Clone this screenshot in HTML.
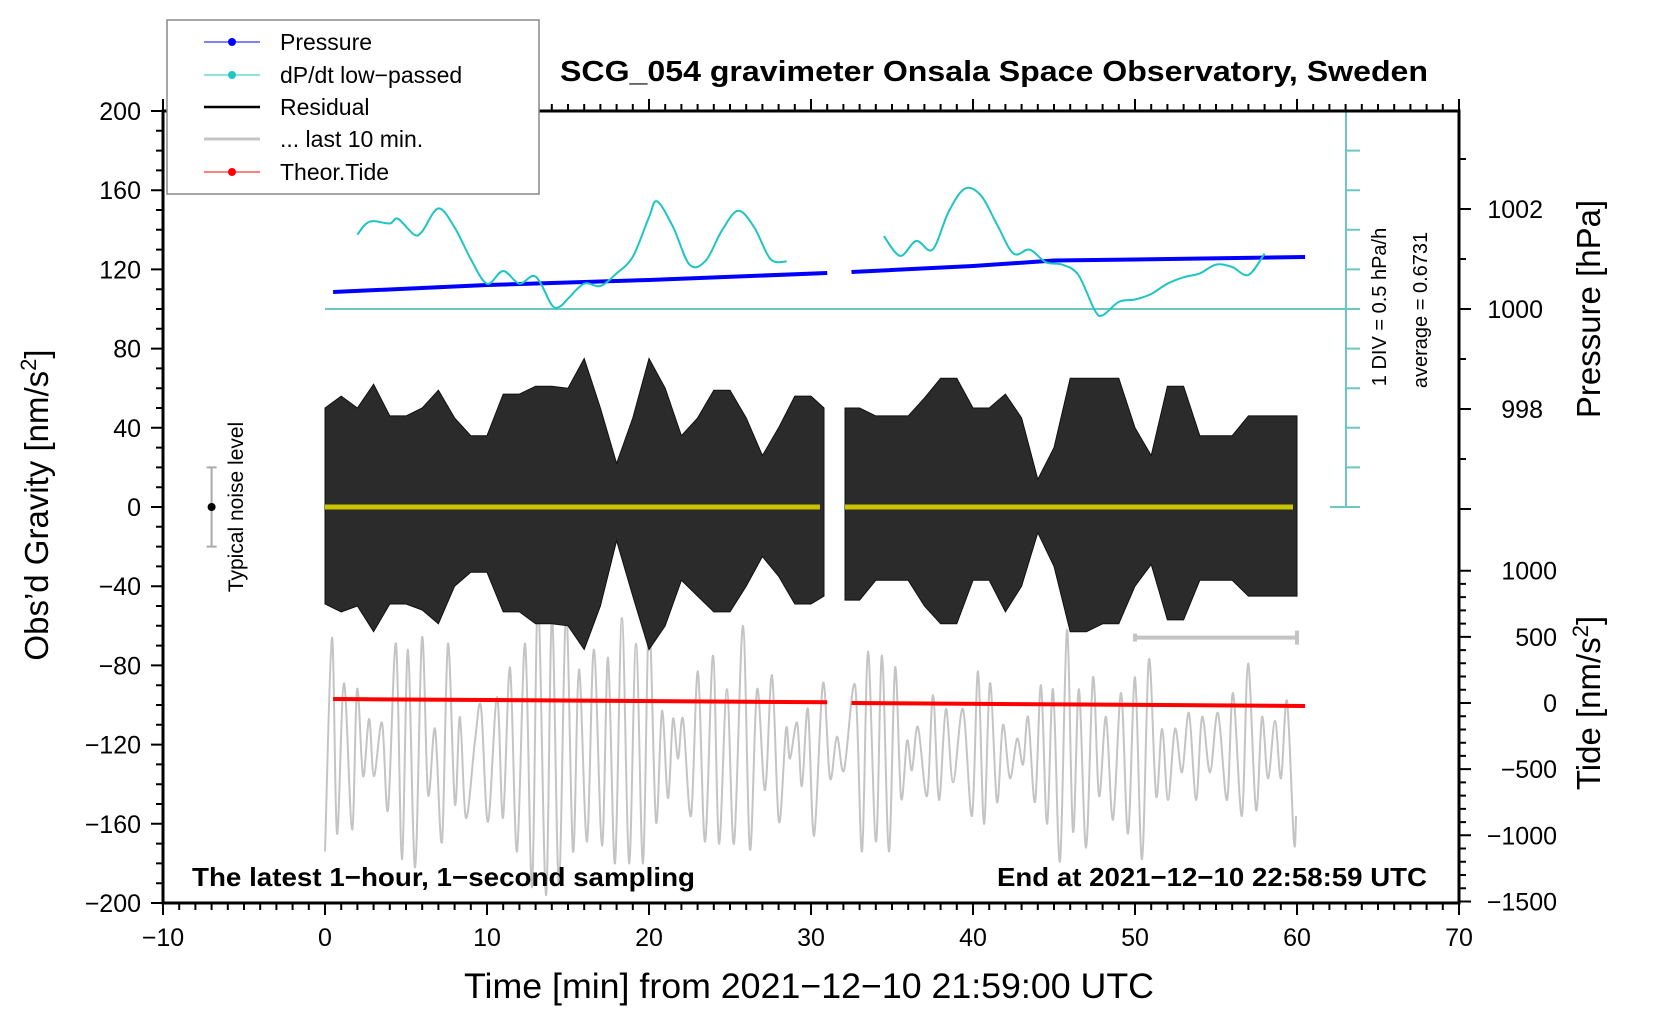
<!DOCTYPE html>
<html><head><meta charset="utf-8"><style>
html,body{margin:0;padding:0;background:#fff}
svg{display:block;font-family:"Liberation Sans",sans-serif}
</style></head><body>
<svg id="chart" width="1660" height="1020" viewBox="0 0 1660 1020" xmlns="http://www.w3.org/2000/svg">
<rect width="1660" height="1020" fill="#fff"/>
<g id="plot"></g>
<g id="axes"></g>
</svg>
<script>
// ---- data ----
const pressT=[0.5,10,20,31,32.5,40,45,50,60.5];
const pressV=[1000.34,1000.48,1000.58,1000.72,1000.74,1000.86,1000.97,1000.99,1001.04];
const dpT1=[2,2.5,3,4,4.5,5.5,6,7,8,9,10,11,12,13,14,14.5,15,16,17,18,19,20,20.5,21.5,22.5,23.5,24.5,25.5,26.5,27.5,28.5];
const dpV1=[0.94,1.07,1.11,1.08,1.14,0.94,0.98,1.27,1.03,0.63,0.32,0.48,0.32,0.41,0.05,0.03,0.13,0.32,0.29,0.45,0.66,1.16,1.36,1.03,0.56,0.61,0.99,1.24,1.03,0.63,0.60];
const dpT2=[34.5,35.5,36.5,37.5,38.5,39.5,40.5,41.5,42.5,43.5,44.5,45.5,46.5,47.5,48,49,50,51,52,53,54,55,56,57,58];
const dpV2=[0.92,0.67,0.86,0.75,1.23,1.52,1.43,1.06,0.70,0.75,0.59,0.56,0.43,-0.01,-0.08,0.09,0.12,0.19,0.32,0.40,0.45,0.56,0.53,0.43,0.70];
const resT=[0,1,2,3,4,5,6,7,8,9,10,11,12,13,14,15,16,17,18,19,20,21,22,23,24,25,26,27,28,29,30,30.8,32.1,33,34,35,36,37,38,39,40,41,42,43,44,45,46,47,48,49,50,51,52,53,54,55,56,57,58,59,60];
const resMax=[50,56,50,62,46,46,50,59,45,36,36,57,57,61,61,60,75,50,22,45,75,60,36,45,59,59,45,26,40,56,56,50,50,50,46,46,46,55,65,65,50,50,57,45,14,30,65,65,65,65,40,26,61,61,36,36,36,46,46,46,46];
const resMin=[-49,-53,-50,-63,-49,-49,-52,-59,-40,-33,-33,-53,-53,-59,-59,-60,-72,-50,-17,-45,-72,-60,-37,-45,-53,-53,-40,-25,-35,-49,-49,-45,-47,-47,-37,-37,-37,-50,-59,-59,-37,-37,-53,-40,-13,-30,-63,-63,-59,-59,-40,-29,-57,-57,-37,-37,-37,-45,-45,-45,-45];
const resGapStart=30.8;
const grayT=[0,.43,.74,1.17,1.67,1.98,2.35,2.72,3.02,3.52,3.89,4.38,4.75,5.12,5.56,5.99,6.36,6.79,7.22,7.59,8.02,8.33,8.70,9.26,9.63,10.06,10.62,10.99,11.42,11.85,12.35,12.78,13.15,13.64,14.01,14.44,14.88,15.31,15.68,16.17,16.6,17.1,17.47,17.9,18.33,18.77,19.2,19.63,20,20.43,20.8,21.17,21.48,21.79,22.1,22.59,23.02,23.46,23.95,24.32,24.81,25.25,25.8,26.23,26.67,27.16,27.59,28.02,28.46,28.7,29.14,29.44,29.81,30.19,30.74,31.17,31.6,32.04,32.72,33.15,33.52,34.01,34.38,34.81,35.19,35.56,35.93,36.23,36.6,37.16,37.53,37.9,38.33,38.77,39.38,39.94,40.31,40.68,41.05,41.48,41.85,42.28,42.72,43.09,43.4,43.83,44.2,44.57,44.94,45.37,45.8,46.17,46.54,46.98,47.41,47.78,48.21,48.64,49.14,49.57,50,50.43,50.86,51.3,51.67,52.04,52.47,52.9,53.33,53.77,54.14,54.63,55.12,55.68,56.05,56.6,56.98,57.47,57.84,58.21,58.64,59.01,59.38,59.81,59.94];
const grayV=[-174,-66,-165,-89,-163,-92,-136,-107,-136,-109,-153,-69,-178,-72,-182,-66,-145,-112,-169,-69,-150,-106,-157,-118,-101,-159,-96,-157,-81,-174,-69,-192,-47,-196,-55,-190,-52,-174,-82,-169,-72,-171,-76,-180,-56,-180,-69,-180,-57,-159,-103,-147,-107,-127,-107,-156,-83,-169,-75,-170,-92,-170,-60,-173,-92,-143,-85,-159,-112,-127,-109,-141,-102,-166,-89,-137,-116,-133,-90,-174,-73,-169,-75,-174,-81,-147,-118,-133,-111,-146,-95,-148,-102,-139,-102,-156,-83,-160,-89,-149,-110,-137,-117,-130,-106,-149,-90,-160,-92,-179,-62,-164,-92,-172,-86,-146,-106,-158,-94,-165,-86,-178,-77,-146,-112,-148,-112,-134,-104,-148,-106,-134,-104,-148,-94,-156,-79,-153,-106,-137,-108,-137,-98,-169,-156];
const tideT=[0.5,31,32.5,60.5];
const tideV=[30,5,0,-23];
const xTicks=[-10,0,10,20,30,40,50,60,70];
const gTicks=[200,160,120,80,40,0,-40,-80,-120,-160,-200];
const pTicks=[1002,1000,998];
const tTicks=[1000,500,0,-500,-1000,-1500];

// ---- scales ----
const X=t=>325+t*16.2;
const Y=g=>507-g*1.98;
const YP=p=>309-(p-1000)*50;
const YC=d=>309-d/0.5*39.6;
const YT=v=>703-v*0.1323;
const NS='http://www.w3.org/2000/svg';
const plot=document.getElementById('plot'), axes=document.getElementById('axes');
function mk(tag,attrs,parent,text){const e=document.createElementNS(NS,tag);for(const k in attrs)e.setAttribute(k,attrs[k]);if(text!==undefined)e.textContent=text;(parent||plot).appendChild(e);return e;}
function smooth(pts){let d='M'+pts[0][0].toFixed(1)+','+pts[0][1].toFixed(1);for(let i=0;i<pts.length-1;i++){const p0=pts[Math.max(0,i-1)],p1=pts[i],p2=pts[i+1],p3=pts[Math.min(pts.length-1,i+2)];const c1=[p1[0]+(p2[0]-p0[0])/6,p1[1]+(p2[1]-p0[1])/6],c2=[p2[0]-(p3[0]-p1[0])/6,p2[1]-(p3[1]-p1[1])/6];d+='C'+c1[0].toFixed(1)+','+c1[1].toFixed(1)+' '+c2[0].toFixed(1)+','+c2[1].toFixed(1)+' '+p2[0].toFixed(1)+','+p2[1].toFixed(1);}return d;}
function lin(pts){return 'M'+pts.map(p=>p[0].toFixed(1)+','+p[1].toFixed(1)).join('L');}

// cyan baseline
let e=mk('line',{x1:X(0),y1:YC(0),x2:1360,y2:YC(0),stroke:'#6cc6c2','stroke-width':2});


// gray last 10 min
e=mk('path',{d:smooth(grayT.map((t,i)=>[X(t),Y(grayV[i])])),fill:'none',stroke:'#c4c4c4','stroke-width':2});


// residual envelope (two segments split at data gap)
const segA=[],segB=[];
resT.forEach((t,i)=>{(t<=resGapStart?segA:segB).push(i);});
[segA,segB].forEach(s=>{
  const top=s.map(i=>[X(resT[i]),Y(resMax[i])]);
  const bot=s.slice().reverse().map(i=>[X(resT[i]),Y(resMin[i])]);
  const r=mk('path',{d:lin(top.concat(bot))+'Z',fill:'#2b2b2b',stroke:'#111','stroke-width':1});
  
  
  const yl=mk('line',{x1:X(resT[s[0]]),y1:Y(0),x2:X(resT[s[s.length-1]])-4,y2:Y(0),stroke:'#c8c400','stroke-width':5});
  
  
});

// pressure
[[0,4],[4,9]].forEach(([a,b])=>{
  const p=mk('path',{d:lin(pressT.slice(a,b).map((t,i)=>[X(t),YP(pressV[a+i])])),fill:'none',stroke:'#0000ff','stroke-width':4});
  
  
});
// dp/dt
[[dpT1,dpV1],[dpT2,dpV2]].forEach(([T,V])=>{
  const p=mk('path',{d:smooth(T.map((t,i)=>[X(t),YC(V[i])])),fill:'none',stroke:'#1fc4c4','stroke-width':2});
  
  
});
// tide
[[0,2],[2,4]].forEach(([a,b])=>{
  const p=mk('path',{d:lin(tideT.slice(a,b).map((t,i)=>[X(t),YT(tideV[a+i])])),fill:'none',stroke:'#ff0000','stroke-width':4});
  
  
});
// last 10 min bar
e=mk('path',{d:`M${X(50)},${Y(-66)}H${X(60)}M${X(50)},${Y(-66)-4}V${Y(-66)+4}M${X(60)},${Y(-66)-7}V${Y(-66)+7}`,stroke:'#c4c4c4','stroke-width':4,fill:'none'});

// noise level
e=mk('path',{d:`M${X(-7)},${Y(20)}V${Y(-20)}M${X(-7)-5},${Y(20)}h10M${X(-7)-5},${Y(-20)}h10`,stroke:'#aaa','stroke-width':2,fill:'none'});

e=mk('circle',{cx:X(-7),cy:Y(0),r:4,fill:'#000'});

e=mk('text',{x:0,y:0,transform:`translate(243,${Y(0)}) rotate(-90)`,'text-anchor':'middle','font-size':21},plot,'Typical noise level');


// cyan scale
let cp='M1346,111V507M1330,111h30M1330,507h30';
for(let k=-4;k<=4;k++){if(k!==0)cp+=`M1346,${YC(k*0.5)}h14`;}
e=mk('path',{d:cp,stroke:'#6cc6c2','stroke-width':2,fill:'none'},axes);

e=mk('text',{transform:'translate(1386,307) rotate(-90)','text-anchor':'middle','font-size':20},axes,'1 DIV = 0.5 hPa/h');

e=mk('text',{transform:'translate(1427,310) rotate(-90)','text-anchor':'middle','font-size':20},axes,'average = 0.6731');


// frame
e=mk('path',{d:'M163,111H1459V903H163Z',fill:'none',stroke:'#000','stroke-width':3},axes);

let tk='';
for(let t=-10;t<=70;t++){const x=X(t),maj=t%10===0;tk+=`M${x},903v${maj?12:7}M${x},111v-${maj?12:7}`;}
for(let g=-200;g<=200;g+=10){const y=Y(g),maj=g%40===0;tk+=`M163,${y}h-${maj?12:7}`;}
for(let p=996;p<=1003;p++){tk+=`M1459,${YP(p)}h${p%2===0?12:7}`;}
for(let v=-1500;v<=1000;v+=100){tk+=`M1459,${YT(v)}h${v%500===0?12:7}`;}
e=mk('path',{d:tk,stroke:'#000','stroke-width':2,fill:'none'},axes);

xTicks.forEach(t=>{const l=mk('text',{x:X(t),y:946,'text-anchor':'middle','font-size':25},axes,String(t).replace('-','\u2212'));

});
gTicks.forEach(g=>{const l=mk('text',{x:141,y:Y(g)+9,'text-anchor':'end','font-size':25},axes,String(g).replace('-','\u2212'));

});
pTicks.forEach(p=>{const l=mk('text',{x:1543,y:YP(p)+9,'text-anchor':'end','font-size':25},axes,String(p));

});
tTicks.forEach(v=>{const l=mk('text',{x:1557,y:YT(v)+9,'text-anchor':'end','font-size':25},axes,String(v).replace('-','\u2212'));

});
</script>
<script>
const ax=document.getElementById('axes');
ax.insertAdjacentHTML('beforeend',`
<text transform="translate(48,505) rotate(-90)" text-anchor="middle" font-size="33">Obs’d Gravity [nm/s<tspan dy="-12" font-size="22">2</tspan><tspan dy="12">]</tspan></text>
<text transform="translate(1600,309) rotate(-90)" text-anchor="middle" font-size="33">Pressure [hPa]</text>
<text transform="translate(1600,703) rotate(-90)" text-anchor="middle" font-size="33">Tide [nm/s<tspan dy="-12" font-size="22">2</tspan><tspan dy="12">]</tspan></text>
<text x="809" y="998" text-anchor="middle" font-size="35" textLength="690" lengthAdjust="spacingAndGlyphs">Time [min] from 2021−12−10 21:59:00 UTC</text>
<text x="560" y="81" font-size="29" font-weight="bold" textLength="868" lengthAdjust="spacingAndGlyphs">SCG_054 gravimeter Onsala Space Observatory, Sweden</text>
<text x="192" y="886" font-size="26" font-weight="bold" textLength="503" lengthAdjust="spacingAndGlyphs">The latest 1−hour, 1−second sampling</text>
<text x="997" y="886" font-size="26" font-weight="bold" textLength="430" lengthAdjust="spacingAndGlyphs">End at 2021−12−10 22:58:59 UTC</text>
<g>
<rect x="167" y="20" width="372" height="174" fill="#fff" stroke="#888" stroke-width="1.5"/>
<g><line x1="204" y1="42" x2="260" y2="42" stroke="#0000ff" stroke-width="1"/><circle cx="232" cy="42" r="4" fill="#0000ff"/><text x="280" y="50" font-size="23">Pressure</text></g>
<g><line x1="204" y1="75" x2="260" y2="75" stroke="#1fc4c4" stroke-width="1"/><circle cx="232" cy="75" r="4" fill="#1fc4c4"/><text x="280" y="83" font-size="23">dP/dt low−passed</text></g>
<g><line x1="204" y1="107" x2="260" y2="107" stroke="#000" stroke-width="2.5"/><text x="280" y="115" font-size="23">Residual</text></g>
<g><line x1="204" y1="139" x2="260" y2="139" stroke="#c4c4c4" stroke-width="3"/><text x="280" y="147" font-size="23">... last 10 min.</text></g>
<g><line x1="204" y1="172" x2="260" y2="172" stroke="#ff0000" stroke-width="1"/><circle cx="232" cy="172" r="4" fill="#ff0000"/><text x="280" y="180" font-size="23">Theor.Tide</text></g>
</g>`);
</script>
</body></html>
